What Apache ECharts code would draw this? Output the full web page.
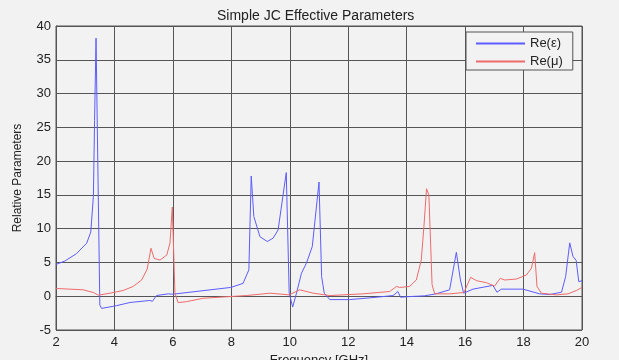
<!DOCTYPE html>
<html>
<head>
<meta charset="utf-8">
<script src="https://cdn.jsdelivr.net/npm/echarts@6/dist/echarts.min.js"></script>
<style>
  html, body { margin: 0; padding: 0; background: #f2f2f2; }
  #chart { width: 619px; height: 360px; }
</style>
</head>
<body>
<div id="chart"></div>
<script>
// Re(eps) samples, frequency in GHz
var epsFreq = [2, 2.3, 2.7, 3.05, 3.19, 3.28, 3.32, 3.37, 3.5, 3.56, 4.07, 4.53, 5.21, 5.3, 5.44, 5.84, 6.0,
  7.98, 8.4, 8.6, 8.68, 8.77, 8.98, 9.23, 9.43, 9.6, 9.88, 9.98, 10.1, 10.23, 10.4, 10.57, 10.77, 11.0,
  11.09, 11.18, 11.37, 12.05, 12.85, 13.54, 13.7, 13.79, 14.1, 14.6, 15.0, 15.47, 15.7, 15.84, 15.95,
  16.27, 16.95, 17.09, 17.24, 17.98, 18.55, 18.9, 19.3, 19.44, 19.58, 19.69, 19.8, 19.89, 20];
var epsVal = [4.7, 5.2, 6.3, 7.85, 9.5, 14.8, 26, 38.2, -1.3, -1.8, -1.4, -0.93, -0.63, -0.75, 0.1, 0.35, 0.3,
  1.3, 1.9, 3.9, 17.8, 11.8, 8.8, 8.1, 8.6, 9.8, 18.3, 0.45, -1.6, 0.45, 3.4, 4.9, 7.35, 16.9,
  2.9, 0.45, -0.5, -0.5, -0.2, 0.1, 0.7, -0.15, -0.05, 0.05, 0.35, 0.95, 6.5, 2.4, 0.45,
  1.05, 1.6, 0.6, 1.05, 1.05, 0.35, 0.25, 0.6, 2.9, 7.9, 5.9, 5.3, 2.15, 2.3];

// Re(mu) samples
var muFreq = [2, 2.93, 3.28, 3.45, 3.85, 4.3, 4.64, 4.93, 5.12, 5.25, 5.36, 5.56, 5.79, 5.9, 5.98, 6.07,
  6.18, 6.47, 7.04, 8.52, 9.32, 9.98, 10.34, 10.8, 11.37, 12.5, 13.42, 13.65, 13.76, 14.1, 14.33, 14.5,
  14.59, 14.68, 14.76, 14.87, 14.96, 15.47, 15.96, 16.19, 16.39, 16.73, 17.01, 17.2, 17.36, 17.76, 18.1,
  18.27, 18.38, 18.46, 18.61, 19.12, 19.52, 19.81, 20];
var muVal = [1.15, 0.95, 0.55, 0.16, 0.45, 0.85, 1.45, 2.4, 4.0, 7.1, 5.6, 5.35, 6.1, 7.85, 13.2, 0.45,
  -0.95, -0.8, -0.3, 0.1, 0.45, 0.2, 0.95, 0.45, 0.1, 0.35, 0.7, 1.45, 1.3, 1.45, 2.4, 5.35,
  10.3, 15.9, 15.0, 1.7, 0.35, 0.35, 0.55, 2.8, 2.3, 2.0, 1.5, 2.65, 2.4, 2.55, 3.15,
  4.15, 6.45, 1.45, 0.45, 0.2, 0.35, 0.85, 1.3];

var seriesNames = ['Re(\u03b5)', 'Re(\u03bc)'];
var epsColor = '#5c5cff';
var muColor = '#ee6b6b';

function pairs(xs, ys) {
  var out = [];
  for (var i = 0; i < xs.length; i++) out.push([xs[i], ys[i]]);
  return out;
}

var chart = echarts.init(document.getElementById('chart'));
var font = '"Liberation Sans", Arial, sans-serif';

chart.setOption({
  backgroundColor: '#f2f2f2',
  animation: false,
  color: [epsColor, muColor],
  title: {
    text: 'Simple JC Effective Parameters',
    left: 212,
    top: 4,
    textStyle: { fontFamily: font, fontSize: 14, fontWeight: 'normal', color: '#222' }
  },
  legend: {
    data: seriesNames,
    orient: 'vertical',
    left: 466,
    top: 32,
    padding: [5, 10, 2, 10],
    itemGap: 5,
    itemWidth: 49,
    itemHeight: 2,
    icon: 'rect',
    backgroundColor: '#f2f2f2',
    borderColor: '#555',
    borderWidth: 1,
    borderRadius: 0,
    textStyle: { fontFamily: font, fontSize: 13, color: '#222' }
  },
  grid: {
    left: 56, right: 37, top: 26, bottom: 30,
    outerBoundsMode: 'none',
    show: true,
    backgroundColor: '#f2f2f2',
    borderColor: '#555',
    borderWidth: 1
  },
  xAxis: {
    type: 'value',
    min: 2, max: 20, interval: 2,
    name: 'Frequency [GHz]',
    nameLocation: 'middle',
    nameGap: 23,
    nameTextStyle: { fontFamily: font, fontSize: 13, color: '#222' },
    axisLine: { lineStyle: { color: '#555' } },
    axisTick: { show: false },
    axisLabel: { fontFamily: font, fontSize: 13, color: '#222', margin: 6 },
    splitLine: { lineStyle: { color: '#555', width: 1 } }
  },
  yAxis: {
    type: 'value',
    min: -5, max: 40, interval: 5,
    name: 'Relative Parameters',
    nameLocation: 'middle',
    nameGap: 32,
    nameTextStyle: { fontFamily: font, fontSize: 12, color: '#222' },
    axisLine: { show: true, lineStyle: { color: '#555' } },
    axisTick: { show: false },
    axisLabel: { fontFamily: font, fontSize: 13, color: '#222', margin: 5 },
    splitLine: { lineStyle: { color: '#555', width: 1 } }
  },
  series: [
    {
      name: seriesNames[0],
      type: 'line',
      showSymbol: false,
      symbol: 'none',
      lineStyle: { width: 1 },
      data: pairs(epsFreq, epsVal)
    },
    {
      name: seriesNames[1],
      type: 'line',
      showSymbol: false,
      symbol: 'none',
      lineStyle: { width: 1 },
      data: pairs(muFreq, muVal)
    }
  ]
});
</script>
</body>
</html>
